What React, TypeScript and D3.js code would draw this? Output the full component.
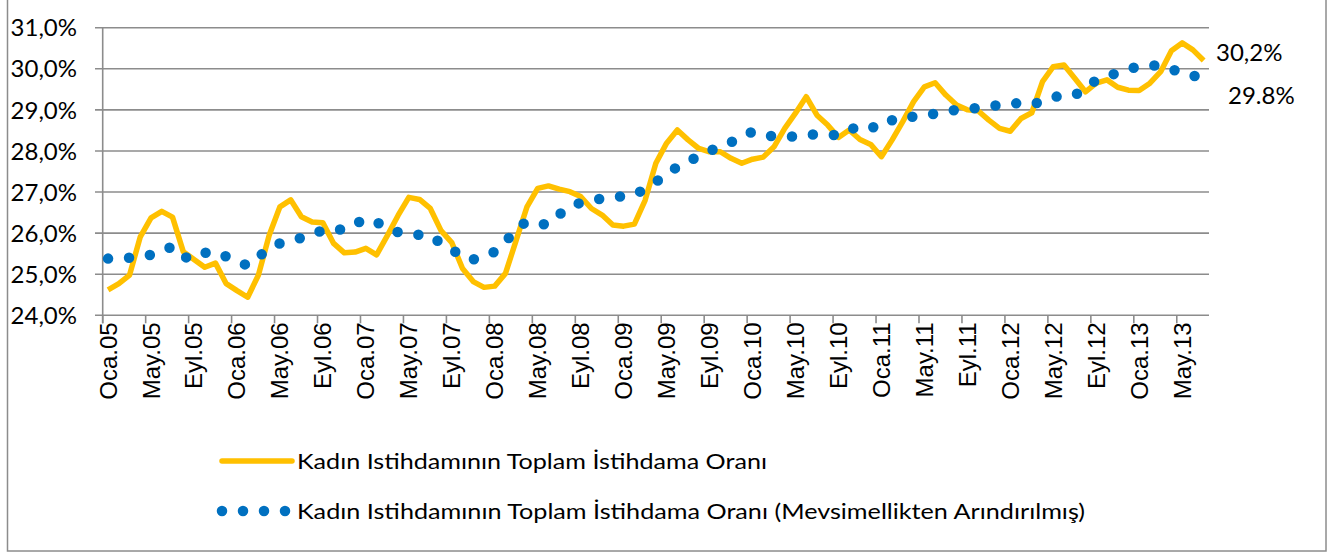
import React from "react";
import * as d3 from "d3";

const monthNames = ["Oca", "Şub", "Mar", "Nis", "May", "Haz", "Tem", "Ağu", "Eyl", "Eki", "Kas", "Ara"];
const startYear = 2005;
const monthCount = 103;
const months: string[] = Array.from({ length: monthCount }, (_, i) =>
  `${monthNames[i % 12]}.${String((startYear + Math.floor(i / 12)) % 100).padStart(2, "0")}`
);

// Kadın İstihdamının Toplam İstihdama Oranı (%), monthly Jan 2005 – Jul 2013
const rawSeries: number[] = [
  24.62, 24.77, 24.98, 25.91, 26.37, 26.53, 26.39, 25.55, 25.36, 25.17, 25.27, 24.77,
  24.60, 24.44, 24.98, 25.95, 26.64, 26.81, 26.40, 26.27, 26.25, 25.75, 25.52, 25.54,
  25.63, 25.47, 25.94, 26.43, 26.87, 26.82, 26.60, 26.06, 25.77, 25.14, 24.82, 24.68,
  24.71, 25.02, 25.83, 26.64, 27.09, 27.15, 27.07, 27.01, 26.89, 26.60, 26.44, 26.20,
  26.17, 26.22, 26.80, 27.70, 28.19, 28.51, 28.27, 28.06, 27.98, 27.98, 27.82, 27.70,
  27.80, 27.85, 28.10, 28.55, 28.92, 29.32, 28.87, 28.63, 28.33, 28.51, 28.28, 28.16,
  27.86, 28.27, 28.72, 29.20, 29.56, 29.66, 29.36, 29.12, 29.00, 28.98, 28.75, 28.55,
  28.48, 28.79, 28.93, 29.69, 30.05, 30.09, 29.77, 29.44, 29.65, 29.73, 29.55, 29.48,
  29.47, 29.65, 29.93, 30.44, 30.63, 30.46, 30.20,
];

// Mevsimsellikten arındırılmış seri (%), monthly Jan 2005 – Jul 2013
const saSeries: number[] = [
  25.38, 25.38, 25.40, 25.44, 25.47, 25.58, 25.67, 25.42, 25.38, 25.52, 25.55, 25.43,
  25.32, 25.21, 25.42, 25.63, 25.75, 25.84, 25.88, 25.95, 26.08, 26.10, 26.08, 26.22,
  26.35, 26.26, 26.16, 26.02, 25.98, 25.96, 25.95, 25.75, 25.62, 25.40, 25.36, 25.42,
  25.55, 25.78, 26.12, 26.28, 26.22, 26.21, 26.45, 26.65, 26.74, 26.80, 26.84, 26.88,
  26.90, 26.93, 27.08, 27.25, 27.42, 27.62, 27.74, 27.88, 28.00, 28.10, 28.21, 28.35,
  28.47, 28.40, 28.35, 28.35, 28.35, 28.38, 28.41, 28.40, 28.38, 28.50, 28.63, 28.58,
  28.57, 28.75, 28.84, 28.83, 28.85, 28.91, 28.96, 29.00, 29.02, 29.05, 29.08, 29.12,
  29.17, 29.15, 29.12, 29.22, 29.32, 29.33, 29.35, 29.55, 29.72, 29.82, 29.90, 29.98,
  30.07, 30.08, 30.08, 30.00, 29.88, 29.83, 29.80,
];

const yTicks: number[] = [24, 25, 26, 27, 28, 29, 30, 31];
const tickEvery = 4;
const legendLabels: string[] = [
  "Kadın Istihdamının Toplam İstihdama Oranı",
  "Kadın Istihdamının Toplam İstihdama Oranı (Mevsimellikten Arındırılmış)",
];
const endLabels: string[] = ["30,2%", "29.8%"];

const YELLOW = "#FFC000";
const BLUE = "#0070C0";
const GRID = "#8c8c8c";

export default function App() {
  const W = 1338, H = 558;
  const left = 102.7, right = 1209, top = 27.7, bottom = 315.3;

  const x = d3.scaleBand<string>().domain(months).range([left, right]).padding(0);
  const cx = (i: number) => (x(months[i]) as number) + x.bandwidth() / 2;
  const y = d3.scaleLinear().domain([24, 31]).range([bottom, top]);

  const line = d3.line<number>().x((_, i) => cx(i)).y((d) => y(d));
  const fmt = (v: number) => `${v.toFixed(1).replace(".", ",")}%`;

  const tickIdx = months.map((_, i) => i).filter((i) => i % tickEvery === 0);

  return (
    <svg width={W} height={H} style={{ position: "absolute", left: 0, top: 0, background: "#fff" }}>
      <rect x={7.5} y={-5} width={1318.5} height={556} fill="#fff" stroke="#8c8c8c" strokeWidth={1.5} />
      {yTicks.map((t) => (
        <g key={t}>
          <line x1={95} x2={right} y1={y(t)} y2={y(t)} stroke={GRID} strokeWidth={1.6} />
          <text
            x={77}
            y={y(t)}
            dy="0.36em"
            textAnchor="end"
            fontFamily="Lato, 'Liberation Sans', sans-serif"
            fontSize={24}
            fill="#000"
          >
            {fmt(t)}
          </text>
        </g>
      ))}
      <line x1={left} x2={left} y1={top} y2={bottom + 8} stroke={GRID} strokeWidth={1.6} />
      {tickIdx.map((i) => {
        const tx = x(months[i]) as number;
        return (
          <g key={i}>
            <line x1={tx} x2={tx} y1={bottom} y2={bottom + 8} stroke={GRID} strokeWidth={1.6} />
            <text
              transform={`translate(${cx(i) + 8.5},${bottom + 7}) rotate(-90)`}
              textAnchor="end"
              fontFamily="'Liberation Sans', Arial, sans-serif"
              fontSize={24}
              fill="#000"
            >
              {months[i]}
            </text>
          </g>
        );
      })}
      <path d={line(rawSeries) || ""} fill="none" stroke={YELLOW} strokeWidth={5.5} strokeLinejoin="round" />
      <path
        d={line(saSeries) || ""}
        fill="none"
        stroke={BLUE}
        strokeWidth={10.5}
        strokeLinecap="round"
        strokeDasharray="0 21"
      />
      <text x={1216} y={y(rawSeries[rawSeries.length - 1]) - 8} dy="0.36em" fontFamily="Lato, sans-serif" fontSize={24}>
        {endLabels[0]}
      </text>
      <text x={1228} y={y(saSeries[saSeries.length - 1]) + 18} dy="0.36em" fontFamily="Lato, sans-serif" fontSize={24}>
        {endLabels[1]}
      </text>
      <g fontFamily="Lato, sans-serif" fontSize={22}>
        <line x1={222} x2={292} y1={461} y2={461} stroke={YELLOW} strokeWidth={5.5} strokeLinecap="round" />
        <text x={297} y={461} dy="0.36em" textLength={470} lengthAdjust="spacingAndGlyphs">
          {legendLabels[0]}
        </text>
        <line
          x1={222}
          x2={292}
          y1={511}
          y2={511}
          stroke={BLUE}
          strokeWidth={10.5}
          strokeLinecap="round"
          strokeDasharray="0 21"
        />
        <text x={297} y={511} dy="0.36em" textLength={788} lengthAdjust="spacingAndGlyphs">
          {legendLabels[1]}
        </text>
      </g>
    </svg>
  );
}
